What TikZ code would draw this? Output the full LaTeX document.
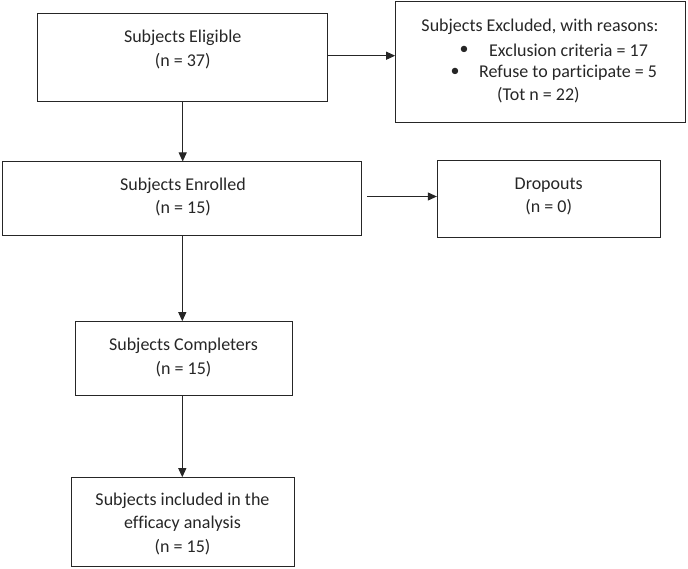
\documentclass[tikz,border=0pt]{standalone}
\usepackage{fontspec}
\setmainfont{Carlito}[Ligatures=NoCommon]
\usetikzlibrary{arrows.meta}
\begin{document}
\begin{tikzpicture}[x=1pt,y=-1pt,
  box/.style={draw=black!85, line width=1pt, rectangle, inner sep=0pt},
  txt/.style={align=center, inner sep=0pt, font=\fontsize{18}{23.5}\selectfont, text=black!85},
  ltxt/.style={anchor=west, inner sep=0pt, font=\fontsize{18}{23.5}\selectfont, text=black!85},
  arr/.style={draw=black!85, line width=1pt, -{Triangle[length=9pt,width=8pt]}}]
\useasboundingbox (0,0) rectangle (688,569);
% boxes
\node[box, minimum width=290pt, minimum height=87.7pt] (elig) at (182.7,57.2) {};
\node[box, minimum width=290.3pt, minimum height=121pt] (excl) at (540.8,62.5) {};
\node[box, minimum width=359.3pt, minimum height=74pt] (enr) at (182.3,199) {};
\node[box, minimum width=222.7pt, minimum height=76.7pt] (drop) at (548.7,199.3) {};
\node[box, minimum width=217pt, minimum height=74pt] (comp) at (183.5,358.7) {};
\node[box, minimum width=223pt, minimum height=89pt] (incl) at (182.5,522.2) {};
% texts
\node[txt] (t1) at (182.7,49.5) {Subjects Eligible\\(n = 37)};
\node[txt] (t2a) at (540,26.5) {Subjects Excluded, with reasons:};
\node[txt] (b1) at (464,50) {•};
\node[ltxt] (t2b) at (489,50) {Exclusion criteria = 17};
\node[txt] (b2) at (455,72.7) {•};
\node[ltxt] (t2c) at (479,72.7) {Refuse to participate = 5};
\node[ltxt] (t2d) at (497,95.5) {(Tot n = 22)};
\node[txt] (t3) at (183,197) {Subjects Enrolled\\(n = 15)};
\node[txt] (t4) at (548.7,196.7) {Dropouts\\(n = 0)};
\node[txt] (t5) at (183.5,357.5) {Subjects Completers\\(n = 15)};
\node[txt] (t6) at (182.5,523.5) {Subjects included in the\\efficacy analysis\\(n = 15)};
% connectors
\coordinate (e1) at ([yshift=1.5pt]elig.east);
\draw[arr] (e1) -- (e1 -| excl.west);
\draw[arr] (elig.south) -- (elig.south |- enr.north);
\coordinate (e2) at ([xshift=5pt,yshift=2.5pt]enr.east);
\draw[arr] (e2) -- (e2 -| drop.west);
\draw[arr] (enr.south) -- (enr.south |- comp.north);
\draw[arr] (enr.south |- comp.south) -- (enr.south |- incl.north);
\end{tikzpicture}
\end{document}
